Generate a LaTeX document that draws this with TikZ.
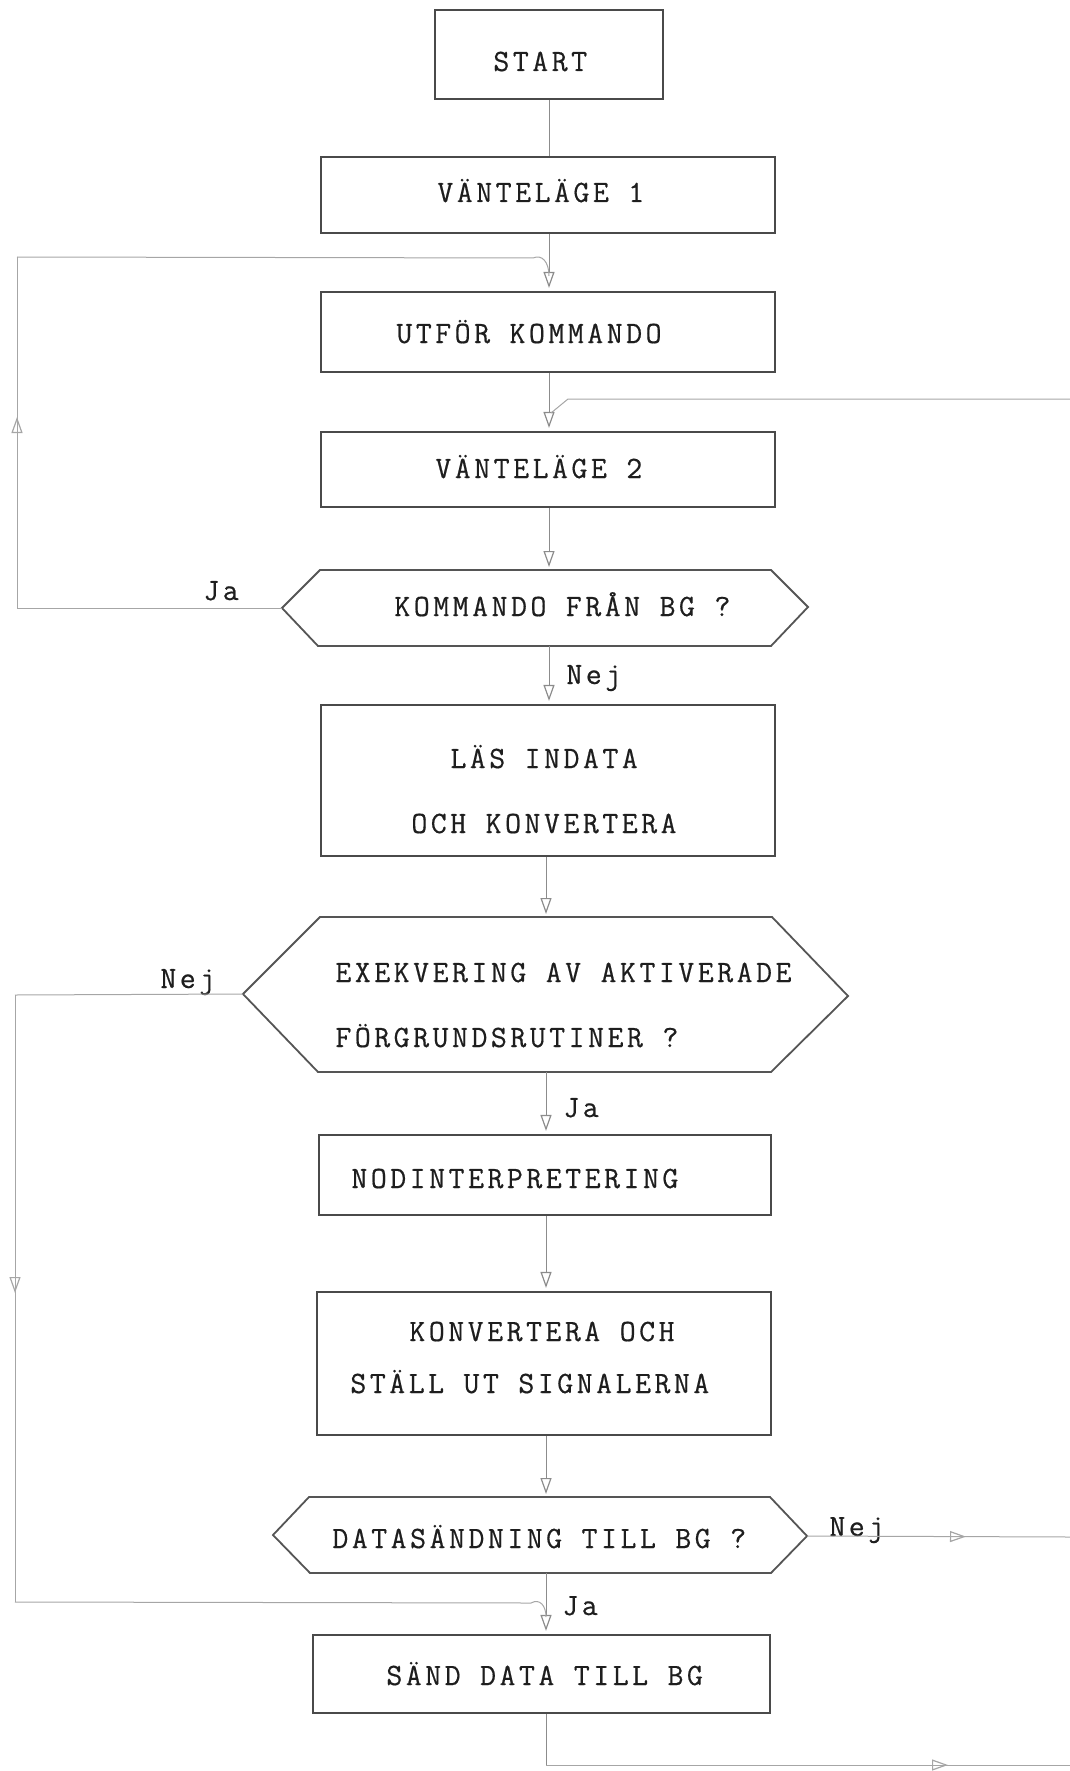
\documentclass[tikz,border=0pt]{standalone}
\usepackage{fontspec}
\newfontfamily\tw{Latin Modern Mono}[LetterSpace=11.2,FakeBold=0.5]
\usetikzlibrary{arrows.meta,decorations.markings,calc}
\definecolor{ink}{HTML}{1E1E1E}
\definecolor{boxline}{HTML}{4A4A4A}
\definecolor{hexline}{HTML}{555555}
\definecolor{connline}{HTML}{8C8C8C}
\definecolor{loopline}{HTML}{A6A6A6}
\tikzset{
  fbox/.style={draw=boxline, line width=1.1pt, inner sep=0pt},
  hexa/.style={draw=hexline, line width=0.9pt, line join=miter},
  lbl/.style={font=\tw\fontsize{15.5}{18}\selectfont, text=ink, anchor=base west, inner sep=0pt},
  conn/.style={draw=connline, color=connline, line width=0.5pt},
  loopln/.style={draw=loopline, color=loopline, line width=0.5pt},
  farrow/.style={conn, -{Triangle[open,length=8pt,width=5.5pt,line width=0.6pt]}, shorten >=1.5pt},
  midarr/.style={postaction={decorate}, decoration={markings, mark=at position #1 with {\arrow{Triangle[open,length=8pt,width=5.5pt,line width=0.6pt]}}}},
}
\begin{document}
\begin{tikzpicture}[x=0.5pt,y=-0.5pt]
\useasboundingbox (0,0) rectangle (1070,1771);

% column coordinates
\coordinate (cA) at (549,0);
\coordinate (cB) at (546,0);

% boxes
\node[fbox, minimum width=114pt, minimum height=44.5pt] (start) at (549,54.5) {};
\node[fbox, minimum width=227pt, minimum height=38pt] (v1) at (548,195) {};
\node[fbox, minimum width=227pt, minimum height=40pt] (utf) at (548,332) {};
\node[fbox, minimum width=227pt, minimum height=37.5pt] (v2) at (548,469.5) {};
\node[fbox, minimum width=227pt, minimum height=75.5pt] (las) at (548,780.5) {};
\node[fbox, minimum width=226pt, minimum height=40pt] (nod) at (545,1175) {};
\node[fbox, minimum width=227pt, minimum height=71.5pt] (konv) at (544,1363.5) {};
\node[fbox, minimum width=228.5pt, minimum height=39pt] (sand) at (541.5,1674) {};

% hexagons
\coordinate (h1W) at (282,608);  \coordinate (h1NW) at (320,570); \coordinate (h1NE) at (771,570);
\coordinate (h1E) at (808,607);  \coordinate (h1SE) at (771,646); \coordinate (h1SW) at (318,646);
\coordinate (h1N) at (549,570); \coordinate (h1S) at (549,646);
\draw[hexa] (h1W) -- (h1NW) -- (h1NE) -- (h1E) -- (h1SE) -- (h1SW) -- cycle;

\coordinate (h2W) at (243,994);  \coordinate (h2NW) at (320,917); \coordinate (h2NE) at (772,917);
\coordinate (h2E) at (848,996);  \coordinate (h2SE) at (771,1072); \coordinate (h2SW) at (318,1072);
\coordinate (h2N) at (546,917); \coordinate (h2S) at (546,1072);
\draw[hexa] (h2W) -- (h2NW) -- (h2NE) -- (h2E) -- (h2SE) -- (h2SW) -- cycle;

\coordinate (h3W) at (273,1535); \coordinate (h3NW) at (309,1497); \coordinate (h3NE) at (770,1497);
\coordinate (h3E) at (807,1536); \coordinate (h3SE) at (771,1573); \coordinate (h3SW) at (310,1573);
\coordinate (h3N) at (546,1497); \coordinate (h3S) at (546,1573);
\draw[hexa] (h3W) -- (h3NW) -- (h3NE) -- (h3E) -- (h3SE) -- (h3SW) -- cycle;

% texts
\node[lbl] (tStart) at (493,71) {START};
\node[lbl] (tV1) at (437,202) {VÄNTELÄGE 1};
\node[lbl] (tUtf) at (396,343) {UTFÖR KOMMANDO};
\node[lbl] (tV2) at (435,478) {VÄNTELÄGE 2};
\node[lbl] (tH1) at (394,616) {KOMMANDO FRÅN BG ?};
\node[lbl] (ja1) at (203,600) {Ja};
\node[lbl] (nej1) at (566,684) {Nej};
\node[lbl] (tLas1) at (450,768) {LÄS INDATA};
\node[lbl] (tLas2) at (411,833) {OCH KONVERTERA};
\node[lbl] (tH2a) at (335,982) {EXEKVERING AV AKTIVERADE};
\node[lbl] (tH2b) at (335,1047) {FÖRGRUNDSRUTINER ?};
\node[lbl] (nej2) at (160,988) {Nej};
\node[lbl] (ja2) at (563,1117) {Ja};
\node[lbl] (tNod) at (351,1188) {NODINTERPRETERING};
\node[lbl] (tK1) at (409,1341) {KONVERTERA OCH};
\node[lbl] (tK2) at (350,1393) {STÄLL UT SIGNALERNA};
\node[lbl] (tH3) at (332,1548) {DATASÄNDNING TILL BG ?};
\node[lbl] (nej3) at (829,1536) {Nej};
\node[lbl] (ja3) at (562,1615) {Ja};
\node[lbl] (tSand) at (386,1685) {SÄND DATA TILL BG};

% main flow
\draw[conn] (start.south -| cA) -- (v1.north -| cA);
\draw[farrow] (v1.south -| cA) -- (utf.north -| cA);
\draw[farrow] (utf.south -| cA) -- (v2.north -| cA);
\draw[farrow] (v2.south -| cA) -- (h1N);
\draw[farrow] (h1S) -- (las.north -| cA);
\draw[farrow] (las.south -| cB) -- (h2N);
\draw[farrow] (h2S) -- (nod.north -| cB);
\draw[farrow] (nod.south -| cB) -- (konv.north -| cB);
\draw[farrow] (konv.south -| cB) -- (h3N);
\draw[farrow] (h3S) -- (sand.north -| cB);

% Ja loop (left, back to UTFOR KOMMANDO)
\coordinate (jaL) at (17,608);
\coordinate (jaT) at (17,257);
\coordinate (hkA) at (533,258);
\coordinate (hkAend) at (549,276);
\draw[loopln] (h1W) -- (jaL);
\draw[loopln, midarr=95.5pt] (jaL) -- (jaT);
\draw[loopln] (jaT) -- (hkA) .. controls (542,254) and (549,262) .. (hkAend);

% Nej loop (left, down to SAND DATA)
\coordinate (nejL) at (15,995);
\coordinate (nejB) at (15,1602);
\coordinate (hkB) at (531,1603);
\coordinate (hkBend) at (546,1617);
\draw[loopln] (h2W) -- (nejL);
\draw[loopln, midarr=149pt] (nejL) -- (nejB);
\draw[loopln] (nejB) -- (hkB) .. controls (540,1598) and (546,1606) .. (hkBend);

% right feed into VANTELAGE 2
\coordinate (rfR) at (1070,399);
\coordinate (rfK) at (568,399);
\coordinate (rfEnd) at (551,413);
\draw[loopln] (rfR) -- (rfK) -- (rfEnd);

% Nej from DATASANDNING
\coordinate (offR) at (1070,1537);
\draw[loopln, midarr=79.5pt] (h3E) -- (offR);

% bottom exit
\coordinate (botC) at (546,1765);
\coordinate (offB) at (1070,1765);
\draw[conn] (sand.south -| cB) -- (botC);
\draw[loopln, midarr=201pt] (botC) -- (offB);
\end{tikzpicture}
\end{document}
